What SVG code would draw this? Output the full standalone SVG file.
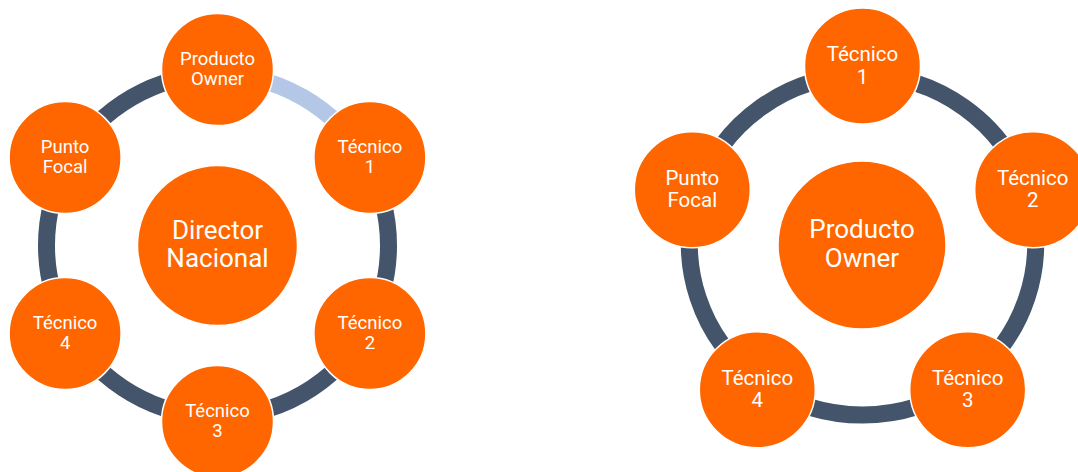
<svg xmlns="http://www.w3.org/2000/svg" width="1078" height="472" viewBox="0 0 1078 472">
<style>
.ring{fill:none;stroke:#44546A;stroke-width:17}
.ring.hl{stroke:#B4C7E7}
.node{fill:#FF6600;stroke:#FFFFFF;stroke-width:1.5}
.t{font-family:Roboto,"Liberation Sans",sans-serif;fill:#FFFFFF;text-anchor:middle}
.s{font-size:18.5px}
.m{font-size:20.5px}
.l{font-size:26px}
</style>
<rect width="1078" height="472" fill="#FFFFFF"/>
<g id="connectors">
<path class="ring" d="M365.6,331 A171,171 0 0 1 217.5,416.5"/>
<path class="ring" d="M217.5,416.5 A171,171 0 0 1 69.4,331"/>
<path class="ring" d="M69.4,331 A171,171 0 0 1 69.4,160"/>
<path class="ring" d="M69.4,160 A171,171 0 0 1 217.5,74.5"/>
<path class="ring" d="M365.6,160 A171,171 0 0 1 365.6,331"/>
<path class="ring hl" d="M217.5,74.5 A171,171 0 0 1 365.6,160"/>
<path class="ring" d="M862.5,75 A173,170 0 0 1 1027,192.5"/>
<path class="ring" d="M1027,192.5 A173,170 0 0 1 964.2,382.5"/>
<path class="ring" d="M964.2,382.5 A173,170 0 0 1 760.8,382.5"/>
<path class="ring" d="M760.8,382.5 A173,170 0 0 1 698,192.5"/>
<path class="ring" d="M698,192.5 A173,170 0 0 1 862.5,75"/>
</g>
<g id="left-director">
<circle class="node" cx="217.5" cy="245.5" r="80"/>
<text class="t l"><tspan x="217.5" y="238.5">Director</tspan><tspan x="217.5" y="266.7">Nacional</tspan></text>
</g>
<g id="left-producto-owner">
<circle class="node" cx="217.5" cy="69.5" r="56"/>
<text class="t s"><tspan x="217.5" y="65">Producto</tspan><tspan x="217.5" y="85">Owner</tspan></text>
</g>
<g id="left-tecnico-1">
<circle class="node" cx="369.9" cy="157.5" r="56"/>
<text class="t s"><tspan x="369.9" y="153">Técnico</tspan><tspan x="369.9" y="173">1</tspan></text>
</g>
<g id="left-tecnico-2">
<circle class="node" cx="369.9" cy="333.5" r="56"/>
<text class="t s"><tspan x="369.9" y="329">Técnico</tspan><tspan x="369.9" y="349">2</tspan></text>
</g>
<g id="left-tecnico-3">
<circle class="node" cx="217.5" cy="421.5" r="56"/>
<text class="t s"><tspan x="217.5" y="417">Técnico</tspan><tspan x="217.5" y="437">3</tspan></text>
</g>
<g id="left-tecnico-4">
<circle class="node" cx="65.1" cy="333.5" r="56"/>
<text class="t s"><tspan x="65.1" y="329">Técnico</tspan><tspan x="65.1" y="349">4</tspan></text>
</g>
<g id="left-punto-focal">
<circle class="node" cx="65.1" cy="157.5" r="56"/>
<text class="t s"><tspan x="65.1" y="153">Punto</tspan><tspan x="65.1" y="173">Focal</tspan></text>
</g>
<g id="right-producto-owner">
<circle class="node" cx="862" cy="245" r="84"/>
<text class="t l"><tspan x="862" y="238">Producto</tspan><tspan x="862" y="266.7">Owner</tspan></text>
</g>
<g id="right-tecnico-1">
<circle class="node" cx="862.5" cy="66" r="58"/>
<text class="t m"><tspan x="862.5" y="61">Técnico</tspan><tspan x="862.5" y="83.5">1</tspan></text>
</g>
<g id="right-tecnico-2">
<circle class="node" cx="1032.7" cy="189.7" r="58"/>
<text class="t m"><tspan x="1032.7" y="184.7">Técnico</tspan><tspan x="1032.7" y="207.2">2</tspan></text>
</g>
<g id="right-tecnico-3">
<circle class="node" cx="967.7" cy="389.8" r="58"/>
<text class="t m"><tspan x="967.7" y="384.8">Técnico</tspan><tspan x="967.7" y="407.3">3</tspan></text>
</g>
<g id="right-tecnico-4">
<circle class="node" cx="757.3" cy="389.8" r="58"/>
<text class="t m"><tspan x="757.3" y="384.8">Técnico</tspan><tspan x="757.3" y="407.3">4</tspan></text>
</g>
<g id="right-punto-focal">
<circle class="node" cx="692.3" cy="189.7" r="58"/>
<text class="t m"><tspan x="692.3" y="184.7">Punto</tspan><tspan x="692.3" y="207.2">Focal</tspan></text>
</g>
</svg>
